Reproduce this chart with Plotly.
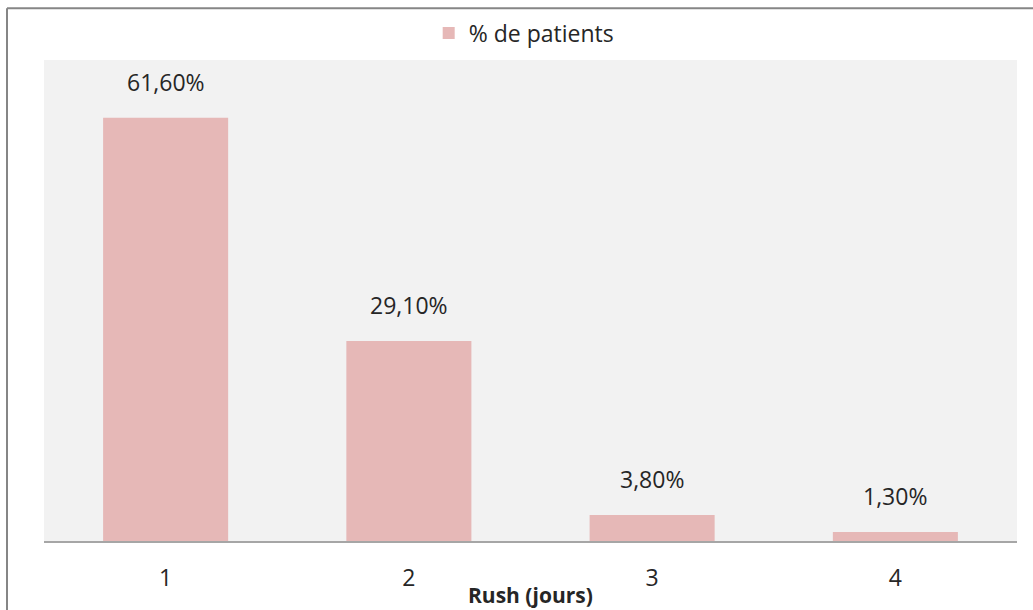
import plotly.graph_objects as go

# Durée du rush et part des patients
categories = ["1", "2", "3", "4"]
pct_patients = [61.6, 29.1, 3.8, 1.3]
series_name = "% de patients"
x_title = "Rush (jours)"

W, H = 1033, 610
ML, MR, MT, MB = 44, 16, 57, 69
plot_w = W - ML - MR
plot_h = H - MT - MB

BAR = "#e6b8b7"
TXT = "#262626"
FONT = "Open Sans"

fig = go.Figure()
fig.add_trace(go.Bar(
    x=categories,
    y=pct_patients,
    name=series_name,
    marker=dict(color=BAR, line=dict(width=0)),
    showlegend=True,
))

# Étiquettes de valeur au-dessus des barres (position par indice de catégorie)
for i, v in enumerate(pct_patients):
    fig.add_annotation(
        x=i, y=v, xref="x", yref="y",
        text=f"{v:.2f}".replace(".", ",") + "%",
        showarrow=False, yanchor="bottom", yshift=18,
        font=dict(family=FONT, size=23, color=TXT),
    )

# Titre de l'axe horizontal
fig.add_annotation(
    x=0.5, y=(0 - 54) / plot_h, xref="paper", yref="paper",
    text=f"<b>{x_title}</b>", showarrow=False,
    xanchor="center", yanchor="middle",
    font=dict(family=FONT, size=21, color=TXT),
)

# Cadre du graphique (bords gauche et haut)
bx = (7 - ML) / plot_w
by = (plot_h + MT - 5) / plot_h
fig.add_shape(type="line", xref="paper", yref="paper",
              x0=bx, x1=bx, y0=-0.3, y1=by,
              line=dict(color="#868686", width=2))
fig.add_shape(type="line", xref="paper", yref="paper",
              x0=bx, x1=1.2, y0=by, y1=by,
              line=dict(color="#868686", width=2))

fig.update_layout(
    width=W, height=H,
    margin=dict(l=ML, r=MR, t=MT, b=MB),
    paper_bgcolor="white",
    plot_bgcolor="#f2f2f2",
    bargap=0.486,
    font=dict(family=FONT, size=23, color=TXT),
    legend=dict(
        orientation="h", x=0.493, xanchor="center",
        y=(plot_h + MT - 30) / plot_h, yanchor="middle",
        font=dict(family=FONT, size=23, color=TXT),
        bgcolor="rgba(0,0,0,0)", itemwidth=30,
    ),
    xaxis=dict(
        type="category",
        range=[-0.5, len(categories) - 0.5],
        showgrid=False, zeroline=False,
        showline=True, linecolor="#a6a6a6", linewidth=1.5,
        ticks="", ticklabelstandoff=16,
        tickfont=dict(family=FONT, size=23, color=TXT),
    ),
    yaxis=dict(
        range=[0, 70], visible=False,
        showgrid=False, zeroline=False,
    ),
)

fig.write_html("out.html")
